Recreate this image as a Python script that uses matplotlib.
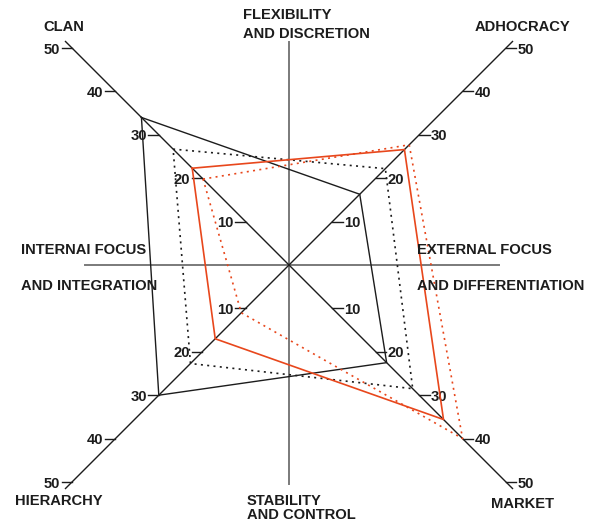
import numpy as np
import matplotlib
matplotlib.use("Agg")
from matplotlib import pyplot as plt

# culture profiles, order: clan, adhocracy, market, hierarchy
axes_names = ["CLAN", "ADHOCRACY", "MARKET", "HIERARCHY"]
black_solid = [34.0, 16.3, 22.5, 30.0]
black_dotted = [26.7, 22.2, 28.5, 22.7]
red_solid = [22.3, 26.6, 35.6, 17.0]
red_dotted = [19.8, 27.7, 40.0, 11.0]
tick_values = [10, 20, 30, 40, 50]

# direction of each diagonal axis
dirs = {"CLAN": (-1, 1), "ADHOCRACY": (1, 1), "MARKET": (1, -1), "HIERARCHY": (-1, -1)}

RED = "#e8471c"
DARK = "#1c1c1c"
GRAY = "#7a7a7a"
SCALE = 4.34  # pixels per unit
CX, CY = 289, 265


def px(x, y):
    # pixel position -> data units
    return (x - CX) / SCALE, (CY - y) / SCALE


fig = plt.figure(figsize=(5.9, 5.22), dpi=100)
ax = fig.add_axes([0, 0, 1, 1])
ax.set_xlim(-CX / SCALE, (590 - CX) / SCALE)
ax.set_ylim(-(522 - CY) / SCALE, CY / SCALE)
ax.axis('off')

font = dict(family="Liberation Sans", fontsize=10.6, fontweight="bold", color=DARK)

# main cross
ax.plot([-47, 48.4], [0, 0], color=GRAY, lw=1.4, zorder=1)
ax.plot([0, 0], [-50.5, 51.4], color=GRAY, lw=1.4, zorder=1)

# diagonal axes with ticks
for name in axes_names:
    sx, sy = dirs[name]
    ax.plot([0, sx * 51.5], [0, sy * 51.5], color=DARK, lw=1.0, zorder=2)
    for v in tick_values:
        x0, y0 = sx * v, sy * v
        ax.plot([x0, x0 + sx * 2.4], [y0, y0], color=DARK, lw=1.0, zorder=2)
        ax.text(x0 + sx * 2.7, y0, str(v), ha="left" if sx > 0 else "right",
                va="center_baseline", **font)


def profile(vals, color, ls, lw):
    xs = [dirs[n][0] * v for n, v in zip(axes_names, vals)]
    ys = [dirs[n][1] * v for n, v in zip(axes_names, vals)]
    xs.append(xs[0])
    ys.append(ys[0])
    ax.plot(xs, ys, color=color, linestyle=ls, lw=lw, zorder=3)


profile(black_solid, DARK, "-", 1.0)
profile(black_dotted, DARK, (0, (1.2, 2.6)), 1.2)
profile(red_solid, RED, "-", 1.2)
profile(red_dotted, RED, (0, (1.2, 2.6)), 1.2)

# labels
labels = [
    ("CLAN", 43, 31), ("ADHOCRACY", 475, 31), ("HIERARCHY", 15, 505), ("MARKET", 491, 508),
    ("FLEXIBILITY", 243, 19), ("AND DISCRETION", 243, 38),
    ("STABILITY", 247, 505), ("AND CONTROL", 247, 519),
    ("INTERNAI FOCUS", 21, 254), ("AND INTEGRATION", 21, 290),
    ("EXTERNAL FOCUS", 417, 254), ("AND DIFFERENTIATION", 417, 290),
]
for text, x, y in labels:
    dx, dy = px(x, y)
    ax.text(dx, dy, text, ha="left", va="baseline", **font)

fig.savefig("out.png", dpi=100)
